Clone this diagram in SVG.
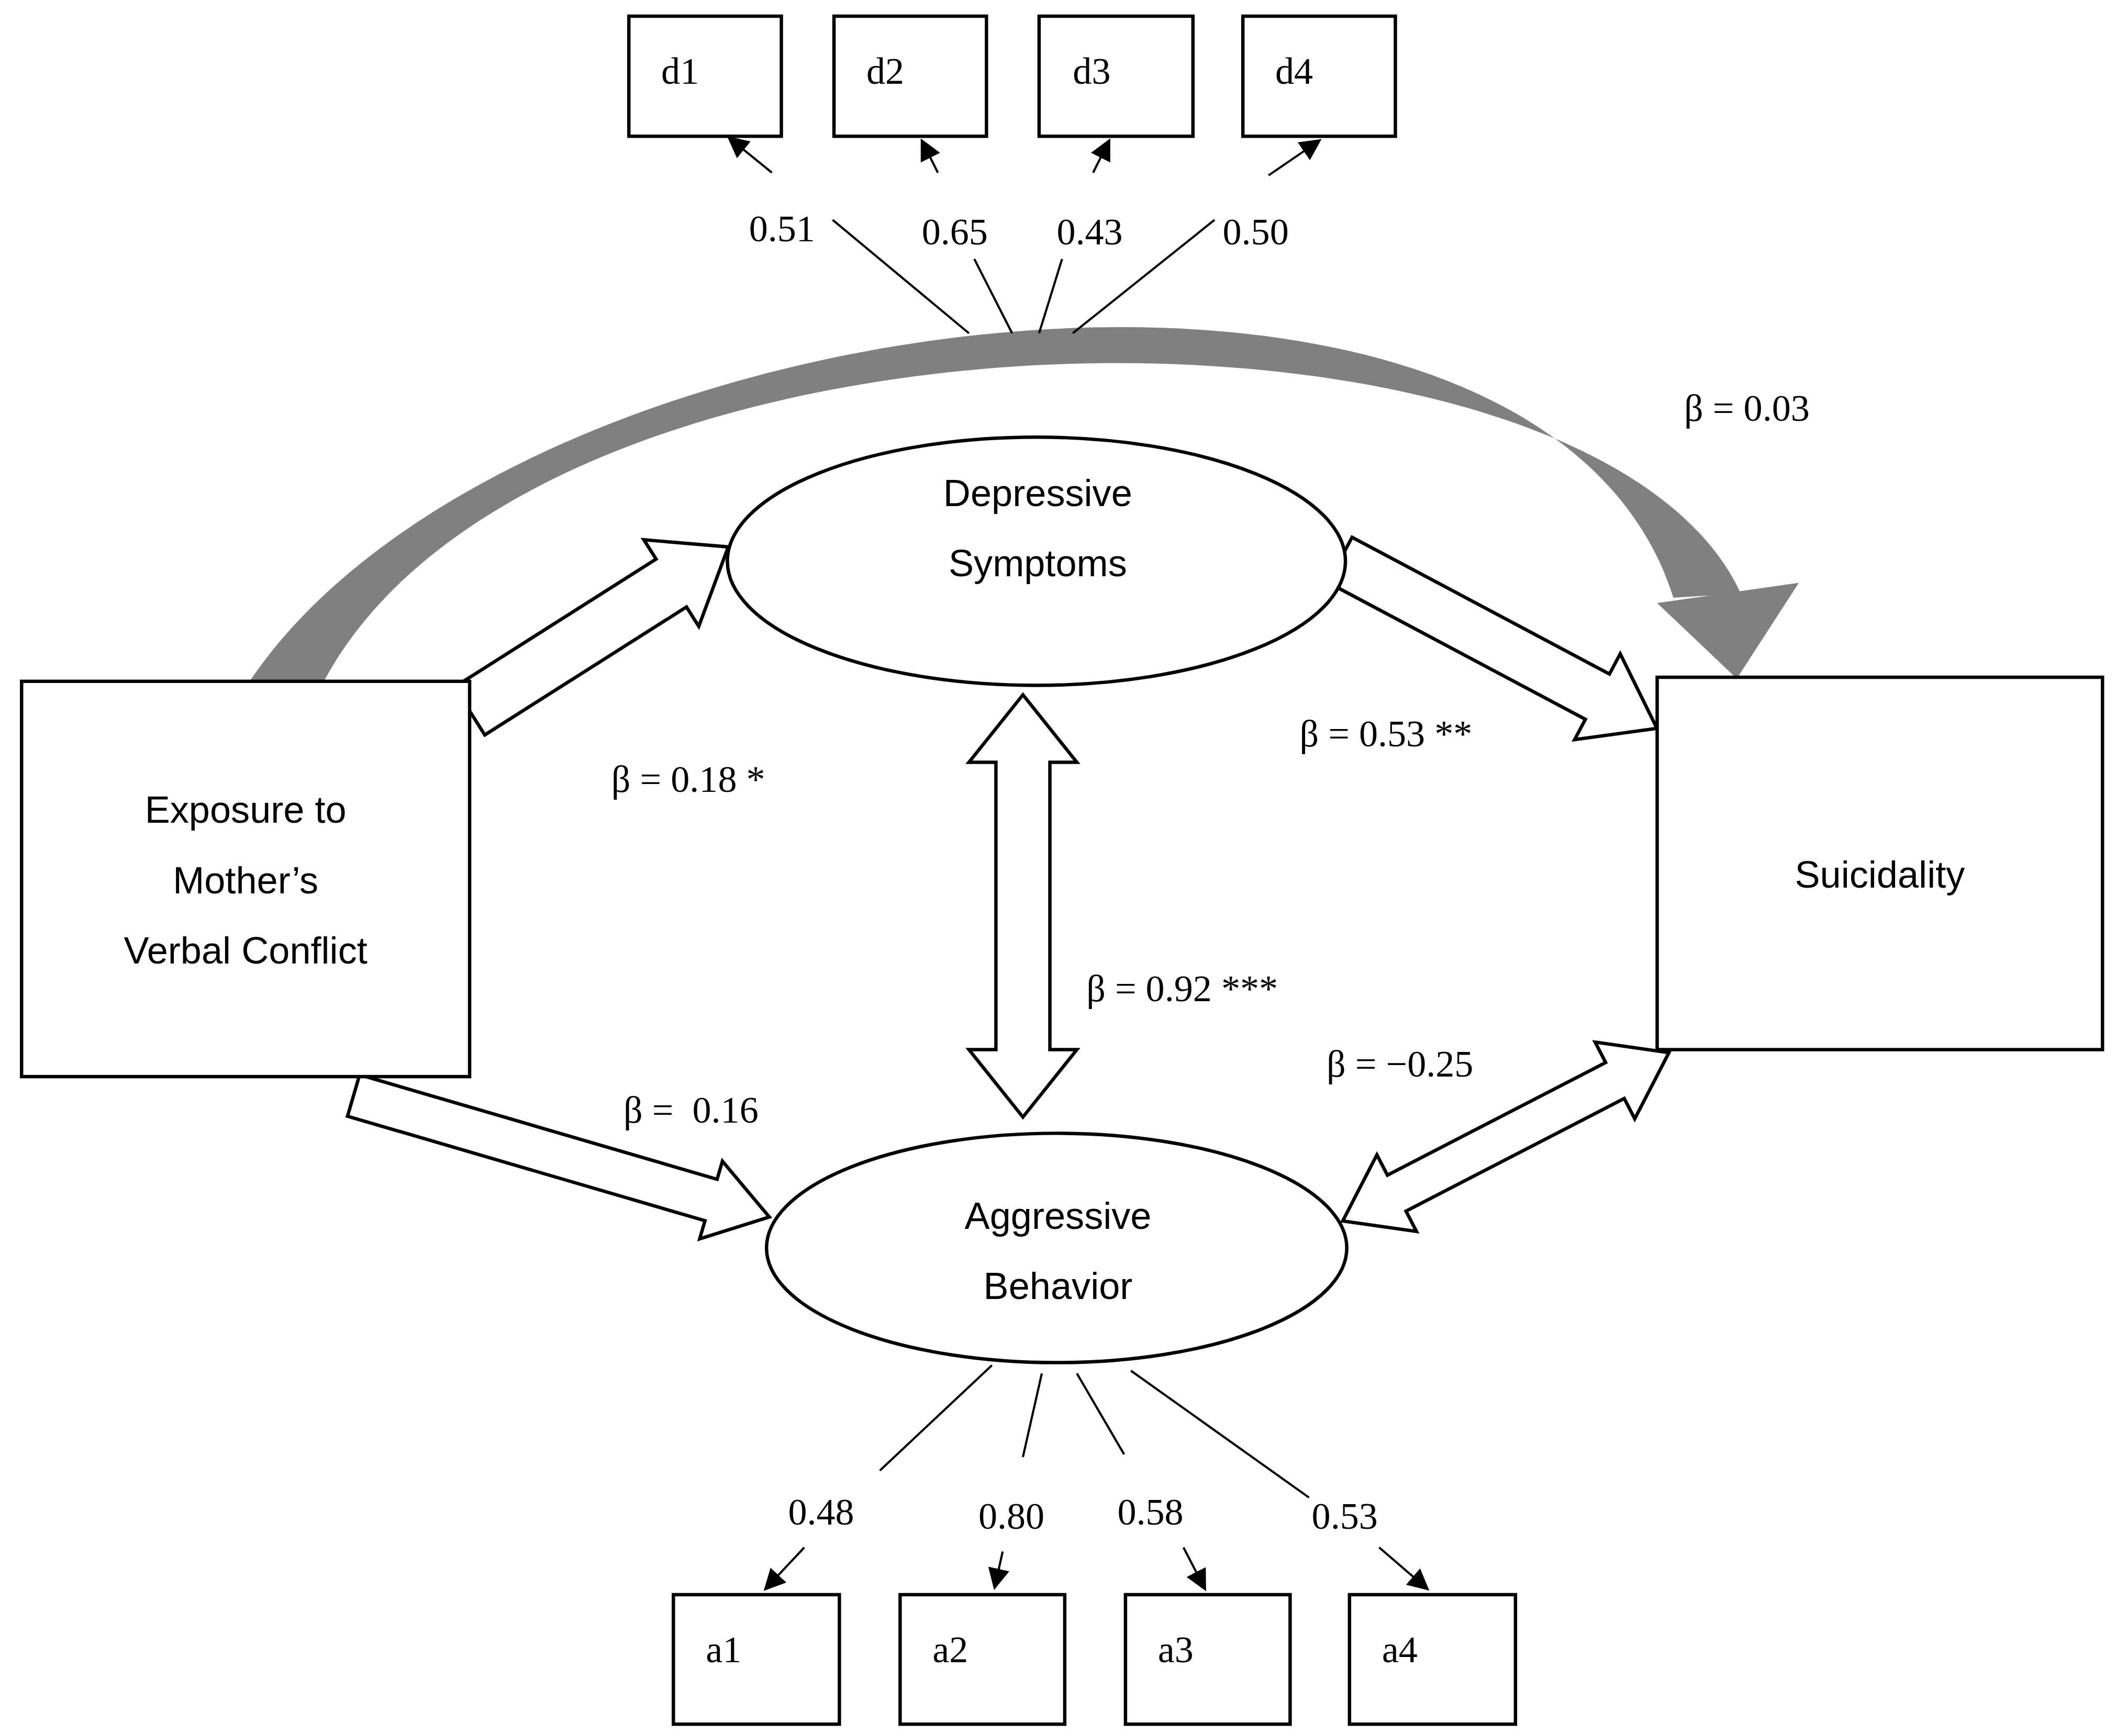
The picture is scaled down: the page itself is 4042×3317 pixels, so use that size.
<svg xmlns="http://www.w3.org/2000/svg" width="4042" height="3317" viewBox="0 0 4042 3317">
<style>
.b{fill:#fff;stroke:#000;stroke-width:2.5}
.h{fill:#fff;stroke:#000;stroke-width:2.5;stroke-linejoin:miter}
.l{stroke:#000;stroke-width:1.6;fill:none}
.s{font-family:"Liberation Serif","DejaVu Serif",serif;font-size:28px}
.a{font-family:"Liberation Sans",Arial,sans-serif;font-size:28px;text-anchor:middle}
</style>
<defs>
<marker id="mk" viewBox="0 0 10 10" refX="9" refY="5" markerWidth="16" markerHeight="16" markerUnits="userSpaceOnUse" orient="auto"><path d="M0,0L10,5L0,10Z"/></marker></defs>
<rect width="4042" height="3317" fill="#fff"/>
<g transform="scale(2.5778)">
<g id="connectors">
<path d="M185,505 C380,215 1140,125 1240,443 L1290,440 C1180,200 400,205 240,505 Z" fill="#808080"/>
<polygon points="1228,447 1333,432 1287,503" fill="#808080"/>
<polygon class="h" transform="translate(348,527) rotate(-32.4)" points="0,-21 177,-21 177,-38 227,0 177,38 177,21 0,21"/>
<polygon class="h" transform="translate(993,415) rotate(28)" points="0,-19 216,-19 216,-36 266,0 216,36 216,19 0,19"/>
<polygon class="h" transform="translate(262,812) rotate(16.3)" points="0,-16 276,-16 276,-30 321,0 276,30 276,16 0,16"/>
<polygon class="h" transform="translate(758,515) rotate(90)" points="0,0 50,-40 50,-20 263,-20 263,-40 313,0 263,40 263,20 50,20 50,40"/>
<polygon class="h" transform="translate(995,905) rotate(-27.3)" points="0,0 45,-32 45,-15 227,-15 227,-32 272,0 227,32 227,15 45,15 45,32"/>
<line class="l" x1="617" y1="163" x2="718" y2="247"/>
<line class="l" x1="722" y1="192" x2="750" y2="247"/>
<line class="l" x1="787" y1="192" x2="770" y2="247"/>
<line class="l" x1="900" y1="163" x2="795" y2="247"/>
<line class="l" x1="572" y1="128" x2="540" y2="102" marker-end="url(#mk)"/>
<line class="l" x1="695" y1="128" x2="683" y2="104" marker-end="url(#mk)"/>
<line class="l" x1="810" y1="128" x2="822" y2="104" marker-end="url(#mk)"/>
<line class="l" x1="940" y1="130" x2="978" y2="104" marker-end="url(#mk)"/>
<line class="l" x1="735" y1="1012" x2="652" y2="1090"/>
<line class="l" x1="772" y1="1018" x2="758" y2="1080"/>
<line class="l" x1="798" y1="1018" x2="833" y2="1078"/>
<line class="l" x1="838" y1="1016" x2="970" y2="1110"/>
<line class="l" x1="596" y1="1147" x2="567" y2="1178" marker-end="url(#mk)"/>
<line class="l" x1="743" y1="1150" x2="737" y2="1177" marker-end="url(#mk)"/>
<line class="l" x1="877" y1="1147" x2="893" y2="1178" marker-end="url(#mk)"/>
<line class="l" x1="1022" y1="1147" x2="1058" y2="1178" marker-end="url(#mk)"/>
</g>
<g id="d1"><rect class="b" x="466" y="12" width="113" height="89"/><text class="s" x="490" y="62">d1</text></g>
<g id="d2"><rect class="b" x="618" y="12" width="113" height="89"/><text class="s" x="642" y="62">d2</text></g>
<g id="d3"><rect class="b" x="770" y="12" width="114" height="89"/><text class="s" x="795" y="62">d3</text></g>
<g id="d4"><rect class="b" x="921" y="12" width="113" height="89"/><text class="s" x="945" y="62">d4</text></g>
<g id="depressive"><ellipse class="b" cx="768" cy="416" rx="229" ry="92"/><text class="a" x="769" y="375">Depressive</text><text class="a" x="769" y="427">Symptoms</text></g>
<g id="aggressive"><ellipse class="b" cx="783" cy="925" rx="215" ry="85"/><text class="a" x="784" y="911">Aggressive</text><text class="a" x="784" y="963">Behavior</text></g>
<g id="exposure"><rect class="b" x="16" y="505" width="332" height="293"/><text class="a" x="182" y="610">Exposure to</text><text class="a" x="182" y="662">Mother’s</text><text class="a" x="182" y="714">Verbal Conflict</text></g>
<g id="suicidality"><rect class="b" x="1228" y="502" width="330" height="276"/><text class="a" x="1393" y="658">Suicidality</text></g>
<g id="a1"><rect class="b" x="499" y="1182" width="123" height="96"/><text class="s" x="523" y="1232">a1</text></g>
<g id="a2"><rect class="b" x="667" y="1182" width="122" height="96"/><text class="s" x="691" y="1232">a2</text></g>
<g id="a3"><rect class="b" x="834" y="1182" width="122" height="96"/><text class="s" x="858" y="1232">a3</text></g>
<g id="a4"><rect class="b" x="1000" y="1182" width="123" height="96"/><text class="s" x="1024" y="1232">a4</text></g>
<g id="labels">
<text class="s" x="555" y="179">0.51</text><text class="s" x="683" y="181">0.65</text><text class="s" x="783" y="181">0.43</text><text class="s" x="906" y="181">0.50</text>
<text class="s" x="1248" y="312">β = 0.03</text>
<text class="s" x="963" y="553">β = 0.53 **</text>
<text class="s" x="453" y="587">β = 0.18 *</text>
<text class="s" x="805" y="742">β = 0.92 ***</text>
<text class="s" x="983" y="798">β = −0.25</text>
<text class="s" x="462" y="832" xml:space="preserve">β =  0.16</text>
<text class="s" x="584" y="1130">0.48</text><text class="s" x="725" y="1133">0.80</text><text class="s" x="828" y="1130">0.58</text><text class="s" x="972" y="1133">0.53</text>
</g>
</g>
</svg>
